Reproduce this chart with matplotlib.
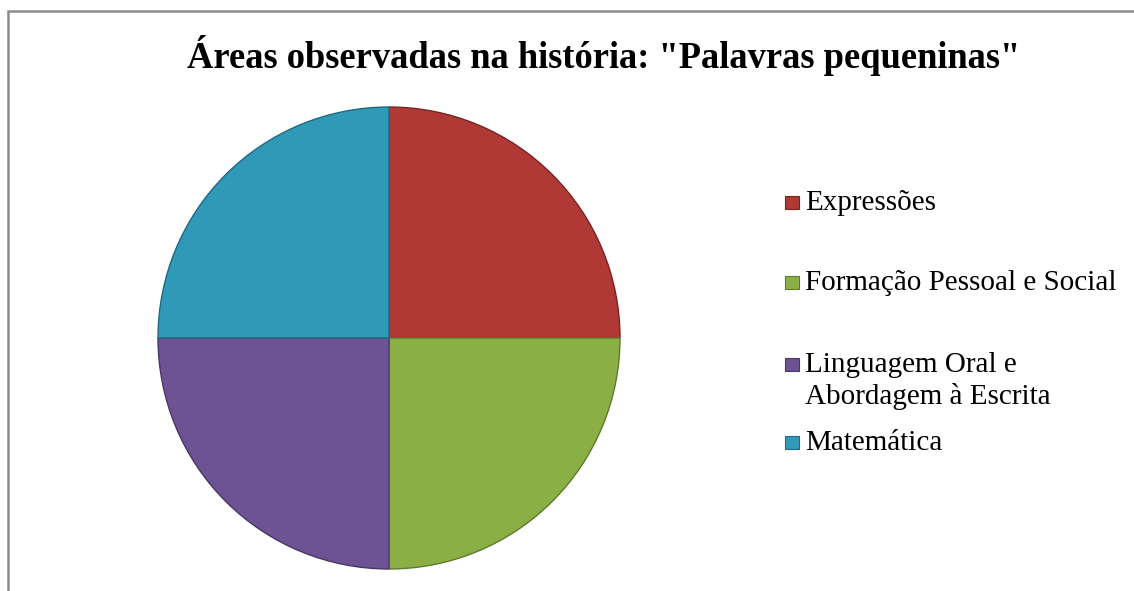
import matplotlib.pyplot as plt
from matplotlib.patches import Rectangle

# ── data ──
labels = ["Expressões", "Formação Pessoal e Social",
          "Linguagem Oral e\nAbordagem à Escrita", "Matemática"]
values = [1, 1, 1, 1]
colors = ["#B03936", "#8AB045", "#6D5294", "#3199B8"]
edges  = ["#7A2422", "#5E7A2C", "#4A3766", "#1F6A80"]
title  = 'Áreas observadas na história: "Palavras pequeninas"'

W, H = 1134, 591
fig = plt.figure(figsize=(W/100, H/100), dpi=100)
plt.rcParams["font.family"] = ["Liberation Serif", "DejaVu Serif"]

# outer chart frame (only top/left visible in the crop)
fig.patches.append(Rectangle((7.5/W, -0.1), 1.2, (H-10.5)/H + 0.1,
                             transform=fig.transFigure, fill=False,
                             ec="#8C8C8C", lw=1.8))

fig.text(604/W, 1 - 55/H, title, ha="center", va="center",
         fontsize=26.3, fontweight="bold")

# pie: centre (389, 338), radius ~231 px
r = 231
ax = fig.add_axes([(389-r)/W, (H-338-r)/H, 2*r/W, 2*r/H])
wedges, _ = ax.pie(values, colors=colors, startangle=90, counterclock=False,
                   radius=1, wedgeprops=dict(linewidth=1.0))
for w, e in zip(wedges, edges):
    w.set_edgecolor(e)
ax.set_xlim(-1, 1); ax.set_ylim(-1, 1)
ax.set_aspect("equal"); ax.axis("off")

# legend, laid out like the Excel one
leg_y  = [203, 283, 381, 443]
mark_y = [203, 283, 365, 443]
for lab, c, e, y, my in zip(labels, colors, edges, leg_y, mark_y):
    fig.patches.append(Rectangle((785/W, 1 - (my+6)/H), 14/W, 13/H,
                                 transform=fig.transFigure,
                                 fc=c, ec=e, lw=0.8))
    fig.text(805/W, 1 - y/H, lab, ha="left", va="center",
             fontsize=21, linespacing=1.25)

fig.savefig("out.png", dpi=100)
